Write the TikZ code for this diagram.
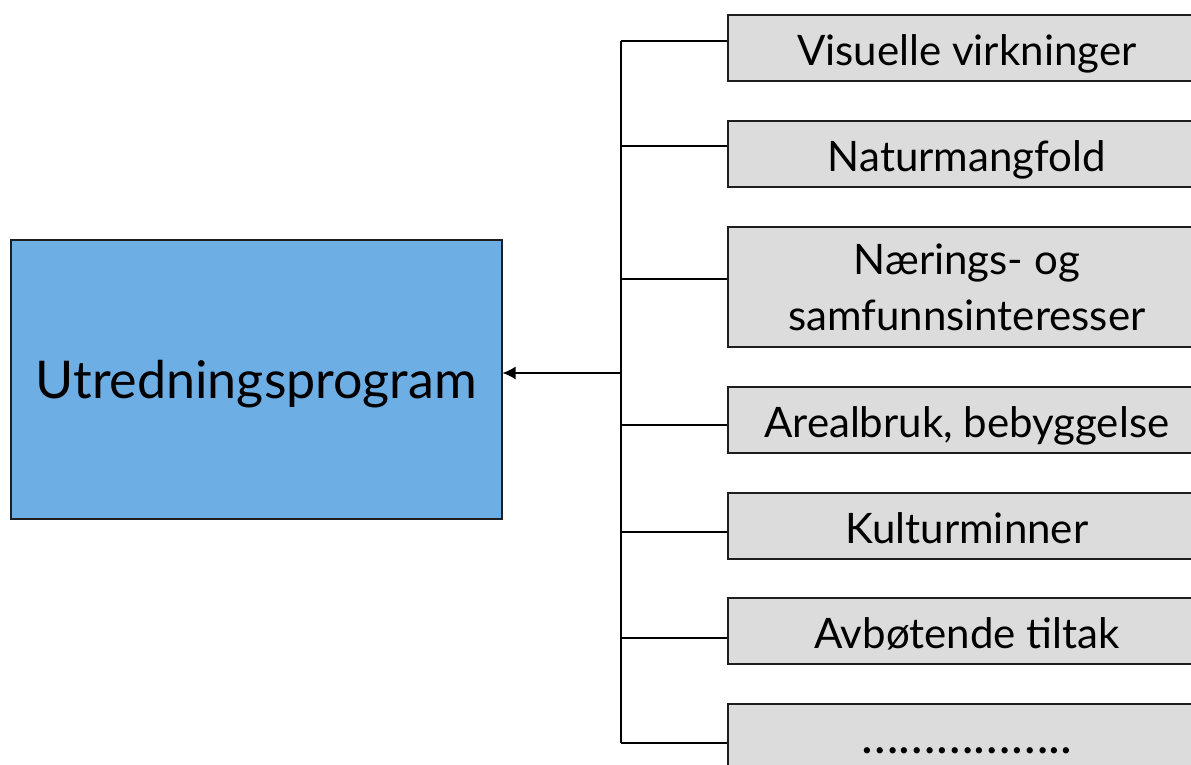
\documentclass[tikz,border=0pt]{standalone}
\usepackage{fontspec}
\setmainfont{Lato}
\usetikzlibrary{arrows.meta,calc}
\definecolor{mainblue}{HTML}{6DAEE4}
\definecolor{boxgray}{HTML}{DCDCDC}
\definecolor{edge}{HTML}{1E1E1E}
\newcommand{\lowtext}[2]{\raisebox{-#1}[0pt][0pt]{#2}}
\tikzset{
  itembox/.style={draw=edge, line width=1.6pt, fill=boxgray, anchor=north west,
    minimum width=478pt, inner sep=0pt, align=center, font=\fontsize{42}{56}\selectfont},
  mainbox/.style={draw=edge, line width=1.6pt, fill=mainblue, anchor=north west,
    minimum width=491pt, minimum height=279pt, inner sep=0pt, font=\fontsize{52}{60}\selectfont},
  conn/.style={line width=1.3pt, draw=black},
}
\begin{document}
\begin{tikzpicture}[x=1pt,y=-1pt]
\useasboundingbox (0,0) rectangle (1191,765);
\clip (0,0) rectangle (1191,765);
\node[mainbox] (main) at (10,239) {\lowtext{19pt}{Utredningsprogram}};
\node[itembox, minimum height=66pt] (b1) at (727,14) {\lowtext{18pt}{Visuelle virkninger}};
\node[itembox, minimum height=66pt] (b2) at (727,120) {\lowtext{18pt}{Naturmangfold}};
\node[itembox, minimum height=120pt] (b3) at (727,226) {\lowtext{44pt}{\parbox[b]{470pt}{\centering Nærings- og\\samfunnsinteresser}}};
\node[itembox, minimum height=66pt] (b4) at (727,386) {\lowtext{18pt}{Arealbruk, bebyggelse}};
\node[itembox, minimum height=66pt] (b5) at (727,492) {\lowtext{18pt}{Kulturminner}};
\node[itembox, minimum height=66pt] (b6) at (727,597) {\lowtext{18pt}{Avbøtende tiltak}};
\node[itembox, minimum height=66pt] (b7) at (727,703) {\lowtext{17pt}{\fontsize{50}{55}\selectfont ……………..}};
\coordinate (top) at (621,41);
\coordinate (bot) at (621,743);
\coordinate (mid) at (621,373);
\draw[conn] (top) -- (bot);
\foreach \b/\y in {b1/41,b2/146,b3/279,b4/425,b5/532,b6/638,b7/743}{
  \draw[conn] (621,\y) -- (\b.west |- 0,\y);
}
\draw[conn, -{Latex[length=13pt,width=13pt]}] (mid) -- (main.east |- mid);
\end{tikzpicture}
\end{document}
